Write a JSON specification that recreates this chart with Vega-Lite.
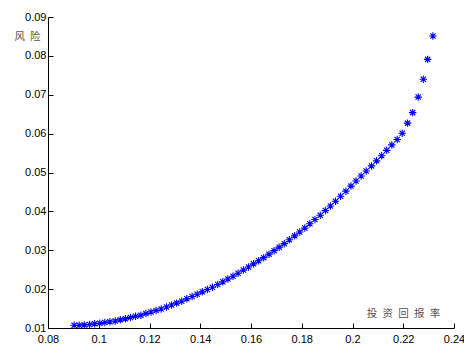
{
  "$schema": "https://vega.github.io/schema/vega-lite/v6.json",
  "autosize": "none",
  "width": 406,
  "height": 311,
  "padding": {"left": 48, "top": 17, "right": 10, "bottom": 16},
  "background": "white",
  "config": {"view": {"stroke": null}},
  "data": {"values": [
    {"ret": 0.0903, "risk": 0.0107}, {"ret": 0.0923, "risk": 0.0107}, {"ret": 0.0943, "risk": 0.0108},
    {"ret": 0.0964, "risk": 0.0109}, {"ret": 0.0984, "risk": 0.0111}, {"ret": 0.1004, "risk": 0.0112},
    {"ret": 0.1024, "risk": 0.0114}, {"ret": 0.1044, "risk": 0.0116}, {"ret": 0.1065, "risk": 0.0118},
    {"ret": 0.1085, "risk": 0.0121}, {"ret": 0.1105, "risk": 0.0124}, {"ret": 0.1125, "risk": 0.0127},
    {"ret": 0.1145, "risk": 0.0130}, {"ret": 0.1166, "risk": 0.0133}, {"ret": 0.1186, "risk": 0.0137},
    {"ret": 0.1206, "risk": 0.0141}, {"ret": 0.1226, "risk": 0.0145}, {"ret": 0.1246, "risk": 0.0149},
    {"ret": 0.1267, "risk": 0.0154}, {"ret": 0.1287, "risk": 0.0159}, {"ret": 0.1307, "risk": 0.0164},
    {"ret": 0.1327, "risk": 0.0169}, {"ret": 0.1347, "risk": 0.0175}, {"ret": 0.1368, "risk": 0.0181},
    {"ret": 0.1388, "risk": 0.0187}, {"ret": 0.1408, "risk": 0.0193}, {"ret": 0.1428, "risk": 0.0199},
    {"ret": 0.1448, "risk": 0.0205}, {"ret": 0.1469, "risk": 0.0212}, {"ret": 0.1489, "risk": 0.0219},
    {"ret": 0.1509, "risk": 0.0226}, {"ret": 0.1529, "risk": 0.0233}, {"ret": 0.1549, "risk": 0.0241},
    {"ret": 0.1570, "risk": 0.0249}, {"ret": 0.1590, "risk": 0.0257}, {"ret": 0.1610, "risk": 0.0265},
    {"ret": 0.1630, "risk": 0.0273}, {"ret": 0.1650, "risk": 0.0281}, {"ret": 0.1671, "risk": 0.0290},
    {"ret": 0.1691, "risk": 0.0299}, {"ret": 0.1711, "risk": 0.0308}, {"ret": 0.1731, "risk": 0.0317},
    {"ret": 0.1751, "risk": 0.0327}, {"ret": 0.1772, "risk": 0.0337}, {"ret": 0.1792, "risk": 0.0347},
    {"ret": 0.1812, "risk": 0.0357}, {"ret": 0.1832, "risk": 0.0368}, {"ret": 0.1852, "risk": 0.0379},
    {"ret": 0.1873, "risk": 0.0390}, {"ret": 0.1893, "risk": 0.0402}, {"ret": 0.1913, "risk": 0.0414},
    {"ret": 0.1933, "risk": 0.0426}, {"ret": 0.1953, "risk": 0.0439}, {"ret": 0.1974, "risk": 0.0452},
    {"ret": 0.1994, "risk": 0.0465}, {"ret": 0.2014, "risk": 0.0478}, {"ret": 0.2034, "risk": 0.0491},
    {"ret": 0.2054, "risk": 0.0504}, {"ret": 0.2075, "risk": 0.0517}, {"ret": 0.2095, "risk": 0.0530},
    {"ret": 0.2115, "risk": 0.0543}, {"ret": 0.2135, "risk": 0.0557}, {"ret": 0.2155, "risk": 0.0571},
    {"ret": 0.2176, "risk": 0.0585}, {"ret": 0.2196, "risk": 0.0601}, {"ret": 0.2217, "risk": 0.0627},
    {"ret": 0.2237, "risk": 0.0654}, {"ret": 0.2259, "risk": 0.0694}, {"ret": 0.2279, "risk": 0.0740},
    {"ret": 0.2296, "risk": 0.0791}, {"ret": 0.2317, "risk": 0.0851}
  ]},
  "mark": {
    "type": "point",
    "shape": "M-1,0L1,0M0,-1L0,1M-0.7,-0.7L0.7,0.7M-0.7,0.7L0.7,-0.7",
    "size": 56,
    "filled": false,
    "stroke": "#0000FF",
    "strokeWidth": 1.1,
    "opacity": 1
  },
  "encoding": {
    "x": {
      "field": "ret", "type": "quantitative",
      "scale": {"domain": [0.08, 0.24], "nice": false, "zero": false},
      "axis": {
        "values": [0.08, 0.1, 0.12, 0.14, 0.16, 0.18, 0.2, 0.22, 0.24],
        "format": "~g",
        "grid": false,
        "domainColor": "#000000",
        "tickColor": "#000000",
        "tickSize": -5,
        "labelPadding": 10,
        "labelFont": "Liberation Sans",
        "labelFontSize": 11,
        "labelColor": "#000000",
        "labelFlush": false,
        "labelOverlap": false,
        "title": "投\u2002资\u2002回\u2002报\u2002率",
        "titleFont": "Noto Sans CJK SC",
        "titleFontSize": 10.5,
        "titleFontWeight": "normal",
        "titleColor": "#555555",
        "titleX": 355,
        "titleY": -15,
        "titleAlign": "center",
        "titleBaseline": "middle"
      }
    },
    "y": {
      "field": "risk", "type": "quantitative",
      "scale": {"domain": [0.01, 0.09], "nice": false, "zero": false},
      "axis": {
        "values": [0.01, 0.02, 0.03, 0.04, 0.05, 0.06, 0.07, 0.08, 0.09],
        "format": "~g",
        "grid": false,
        "domainColor": "#000000",
        "tickColor": "#000000",
        "tickSize": -5,
        "labelPadding": 7,
        "labelFont": "Liberation Sans",
        "labelFontSize": 11,
        "labelColor": "#000000",
        "labelFlush": false,
        "labelOverlap": false,
        "title": "风\u2002险",
        "titleFont": "Noto Sans CJK SC",
        "titleFontSize": 10.5,
        "titleFontWeight": "normal",
        "titleColor": "#555555",
        "titleAngle": 0,
        "titleX": -21,
        "titleY": 19,
        "titleAlign": "center",
        "titleBaseline": "middle"
      }
    }
  }
}
